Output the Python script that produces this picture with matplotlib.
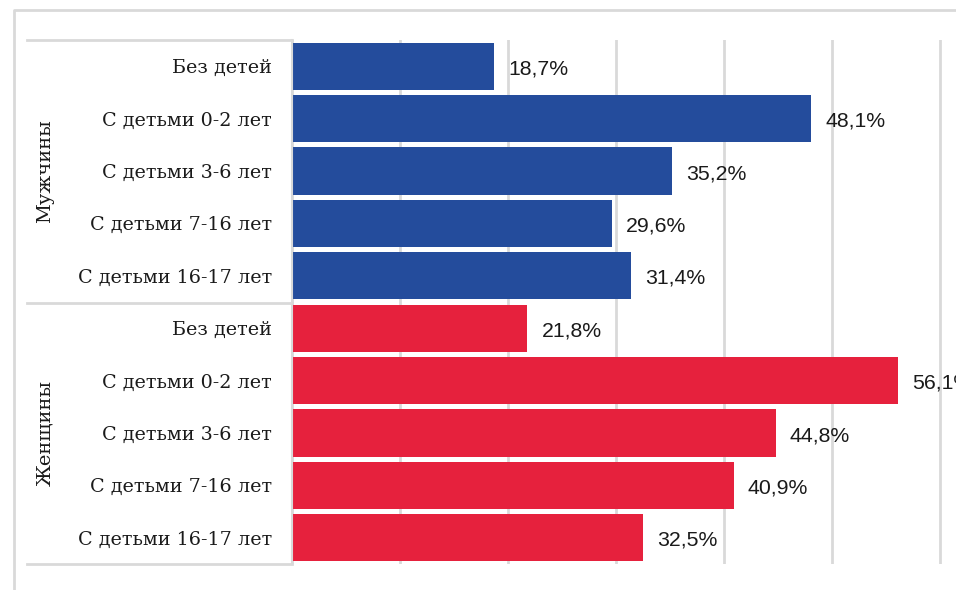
import matplotlib
matplotlib.use("Agg")
import matplotlib.pyplot as plt
from matplotlib.lines import Line2D

groups = ["Мужчины", "Женщины"]
categories = ["Без детей", "С детьми 0-2 лет", "С детьми 3-6 лет",
              "С детьми 7-16 лет", "С детьми 16-17 лет"]
men = [18.7, 48.1, 35.2, 29.6, 31.4]
women = [21.8, 56.1, 44.8, 40.9, 32.5]
xticks = [0, 10, 20, 30, 40, 50, 60]

BLUE = "#244c9c"
RED = "#e6213d"
GRID = "#d9d9d9"

W, H = 956, 590
fig = plt.figure(figsize=(W / 100, H / 100), dpi=100)

# axes box in pixel terms
x0, x1 = 292, 956
ytop, ybot = 40, 564
ax = fig.add_axes([x0 / W, 1 - ybot / H, (x1 - x0) / W, (ybot - ytop) / H])

values = men + women
colors = [BLUE] * len(men) + [RED] * len(women)
labels = categories + categories
pos = list(range(len(values)))

ax.barh(pos, values, height=0.9, color=colors, zorder=2)
ax.set_ylim(len(values) - 0.5, -0.5)
# 60% grid line sits at x=940 px
scale = (940 - x0) / 60
ax.set_xlim(0, (x1 - x0) / scale)

ax.set_xticks(xticks)
ax.xaxis.grid(True, color=GRID, linewidth=2, zorder=0)
ax.tick_params(axis="both", length=0, labelbottom=False)
ax.set_yticks(pos)
ax.set_yticklabels(labels, family="DejaVu Serif", fontsize=13.8, color="#1a1a1a")
ax.tick_params(axis="y", pad=14.5)
for s in ["top", "right", "bottom"]:
    ax.spines[s].set_visible(False)
ax.spines["left"].set_color(GRID)
ax.spines["left"].set_linewidth(1.5)

for p, v in zip(pos, values):
    ax.text(v + 1.3, p + 0.05, f"{v:.1f}%".replace(".", ","), va="center", ha="left",
            fontsize=15.3, family="Liberation Sans", color="#1a1a1a", clip_on=False)

# table lines left of the axis
for y in [ytop, 303, ybot]:
    fig.add_artist(Line2D([27 / W, x0 / W], [1 - y / H, 1 - y / H],
                          color=GRID, linewidth=2))
# outer frame
fig.add_artist(Line2D([14 / W, 14 / W, 955 / W], [0, 1 - 10 / H, 1 - 10 / H],
                      color=GRID, linewidth=2))

# group labels
for g, yc in zip(groups, [171, 433]):
    fig.text(45 / W, 1 - yc / H, g, rotation=90, ha="center", va="center",
             family="DejaVu Serif", fontsize=14, color="#1a1a1a")

fig.savefig("out.png", dpi=100)
